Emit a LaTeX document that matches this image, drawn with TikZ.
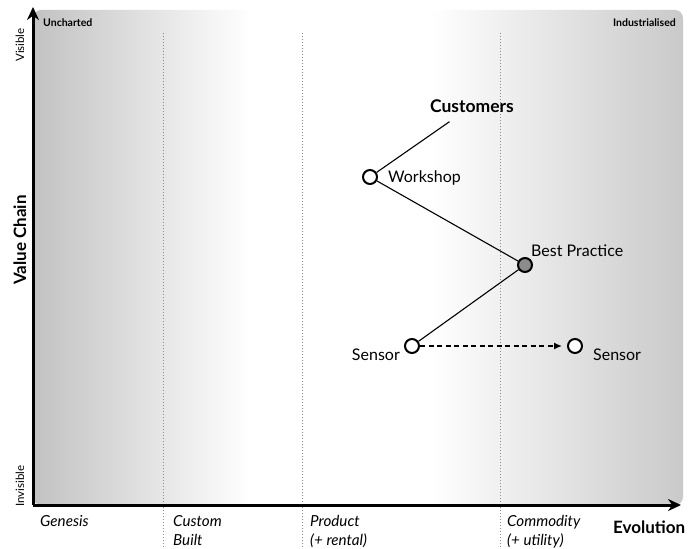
\documentclass[tikz,border=0pt]{standalone}
\usepackage{fontspec}
\setmainfont{Lato}
\usetikzlibrary{arrows.meta}
\pgfdeclarehorizontalshading{evolution}{100bp}{color(0bp)=(black!24); color(25bp)=(black!24); color(41.7bp)=(white); color(55.5bp)=(white); color(75bp)=(black!21); color(100bp)=(black!21)}
\begin{document}
\begin{tikzpicture}[x=1pt,y=-1pt,
  comp/.style={circle, draw=black, fill=white, line width=2pt, minimum size=14pt, inner sep=0pt},
  bestpractice/.style={comp, fill=black!45},
  link/.style={line width=1.1pt},
  move/.style={line width=1.5pt, dash pattern=on 5pt off 3.5pt, -{Latex[length=8pt,width=7pt]}, shorten >=5pt},
  axis/.style={line width=3pt, -{Stealth[length=13pt,width=12pt]}},
  divider/.style={black!45, line width=0.8pt, dash pattern=on 0.8pt off 2.2pt},
  lbl/.style={inner sep=0pt, font=\fontsize{16}{19}\selectfont},
  phase/.style={inner sep=0pt, align=left, anchor=north west, font=\fontsize{15.2}{19}\selectfont\itshape},
  corner/.style={inner sep=0pt, font=\fontsize{10.5}{12}\selectfont\bfseries},
  side/.style={inner sep=0pt, rotate=90, font=\fontsize{11.5}{13}\selectfont}]
\useasboundingbox (0,0) rectangle (700,548);
\path[shading=evolution, rounded corners=8pt] (33,505) -- (33,10) -- (683,10) -- (683,505) -- cycle;
\draw[divider] (163,33) -- (163,548);
\draw[divider] (302,33) -- (302,548);
\draw[divider] (500,33) -- (500,548);
\coordinate (origin) at (33,505);
\coordinate (visible) at (33,7);
\coordinate (industrial) at (681,505);
\draw[axis] (origin) -- (visible);
\draw[axis] (origin) -- (industrial);
\node[corner, anchor=west] (uncharted) at (43,23) {Uncharted};
\node[corner, anchor=east] (industrialised) at (676,23) {Industrialised};
\node[side] (vis) at (20,45) {Visible};
\node[side] (invis) at (20,486) {Invisible};
\node[side, font=\fontsize{17}{19}\selectfont\bfseries] (valuechain) at (20,240) {Value Chain};
\node[phase] (genesis) at (40,515) {Genesis};
\node[phase] (custom) at (173,515) {Custom\\Built};
\node[phase] (product) at (310,515) {Product\\(+ rental)};
\node[phase] (commodity) at (507,515) {Commodity\\(+ utility)};
\node[lbl, anchor=base west, font=\fontsize{17}{19}\selectfont\bfseries] (evolution) at (613,533) {Evolution};
\node[lbl, inner sep=9pt, font=\fontsize{17.5}{20}\selectfont\bfseries] (cust) at (472,106) {Customers};
\node[comp] (work) at (370,177) {};
\node[bestpractice] (best) at (525,265) {};
\node[comp] (sensor) at (412,346) {};
\node[comp] (sensorb) at (575,346) {};
\node[lbl, anchor=base west] (worklbl) at (388,182) {Workshop};
\node[lbl, anchor=base west] (bestlbl) at (531,256) {Best Practice};
\node[lbl, anchor=base east] (sensorlbl) at (400,360) {Sensor};
\node[lbl, anchor=base west] (sensorblbl) at (593,360) {Sensor};
\draw[link] (cust) -- (work);
\draw[link] (work) -- (best);
\draw[link] (best) -- (sensor);
\draw[move] (sensor) -- (sensorb);
\end{tikzpicture}
\end{document}
